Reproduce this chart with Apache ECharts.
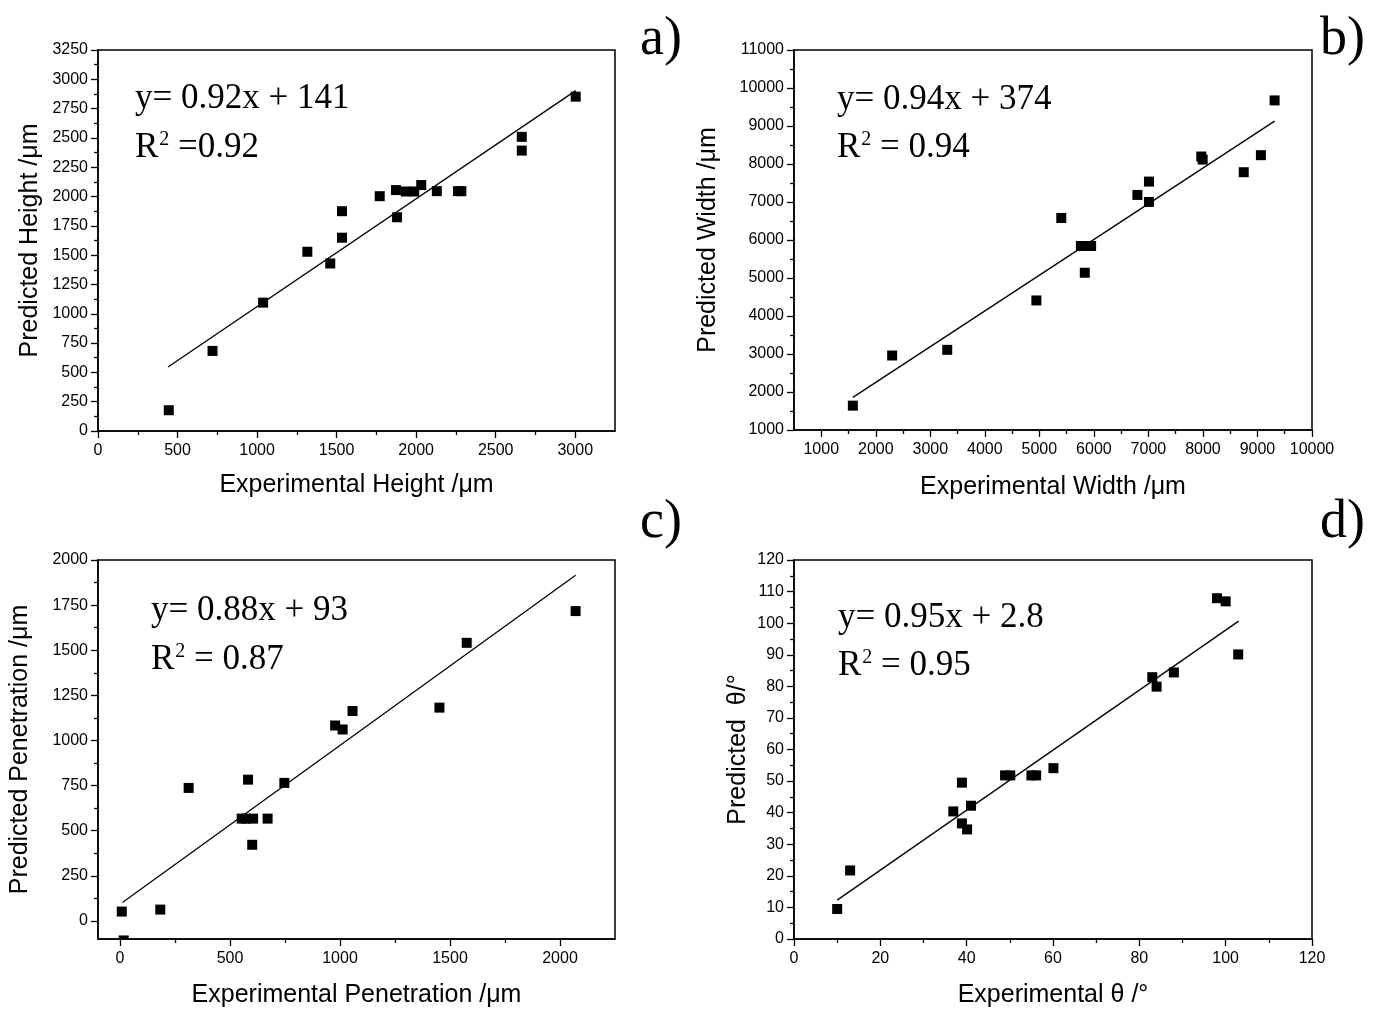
<!DOCTYPE html>
<html><head><meta charset="utf-8">
<script src="https://cdn.jsdelivr.net/npm/echarts@6/dist/echarts.min.js"></script>
<style>html,body{margin:0;padding:0;background:#fff}#c{width:1383px;height:1010px}</style>
</head><body><div id="c"></div>
<script>
// ---------- Panel a: height ----------
const heightExp  = [445,720,1038,1316,1460,1534,1534,1771,1873,1880,1935,1988,2032,2130,2263,2284,2664,2664,3003];
const heightPred = [177,683,1095,1529,1429,1875,1649,2003,2055,1823,2043,2043,2098,2046,2046,2046,2509,2392,2852];
const heightFit = [0.92, 141];
const heightFitRange = [440, 3003];
const heightXTicks = [0,500,1000,1500,2000,2500,3000];
const heightYTicks = [0,250,500,750,1000,1250,1500,1750,2000,2250,2500,2750,3000,3250];

// ---------- Panel b: width ----------
const widthExp  = [1579,2300,3310,4945,5402,5762,5839,5949,5833,6798,7010,7010,7969,7995,8748,9063,9314];
const widthPred = [1641,2960,3109,4409,6580,5842,5842,5842,5139,7186,7537,7001,8197,8117,7784,8232,9673];
const widthFit = [0.94, 374];
const widthFitRange = [1580, 9314];
const widthXTicks = [1000,2000,3000,4000,5000,6000,7000,8000,9000,10000];
const widthYTicks = [1000,2000,3000,4000,5000,6000,7000,8000,9000,10000,11000];

// ---------- Panel c: penetration ----------
const penExp  = [8,17,183,312,582,553,573,605,601,671,747,978,1012,1057,1452,1576,2071];
const penPred = [52,-108,63,737,783,567,567,567,422,567,765,1083,1061,1163,1182,1541,1717];
const penFit = [0.88, 93];
const penFitRange = [11, 2071];
const penXTicks = [0,500,1000,1500,2000];
const penYTicks = [0,250,500,750,1000,1250,1500,1750,2000];

// ---------- Panel d: angle ----------
const thetaExp  = [10.0,13.0,36.9,38.9,38.9,40.1,41.0,48.9,50.1,55.0,56.1,60.1,83.0,84.0,88.0,98.0,100.0,102.9];
const thetaPred = [9.5,21.7,40.4,49.5,36.6,34.7,42.2,51.8,51.8,51.8,51.8,54.1,82.9,79.9,84.4,107.9,106.9,90.1];
const thetaFit = [0.95, 2.8];
const thetaFitRange = [10, 103];
const thetaXTicks = [0,20,40,60,80,100,120];
const thetaYTicks = [0,10,20,30,40,50,60,70,80,90,100,110,120];

const SANS = 'Liberation Sans';
const SERIF = 'Liberation Serif';
const SYM = 10;
const EQ_FS = 35, SUP_FS = 20;

const panels = [
  {grid:{left:98,top:50,width:517,height:381}, xs:heightExp, ys:heightPred, fit:heightFit, range:heightFitRange,
   x:{min:0,max:3250,ticks:heightXTicks,name:'Experimental Height /μm',gap:42},
   y:{min:0,max:3250,ticks:heightYTicks,name:'Predicted Height /μm',gap:55.5}},
  {grid:{left:794,top:50,width:518,height:380}, xs:widthExp, ys:widthPred, fit:widthFit, range:widthFitRange,
   x:{min:500,max:10000,ticks:widthXTicks,name:'Experimental Width /μm',gap:45},
   y:{min:1000,max:11000,ticks:widthYTicks,name:'Predicted Width /μm',gap:73.5}},
  {grid:{left:98,top:560,width:517,height:379}, xs:penExp, ys:penPred, fit:penFit, range:penFitRange,
   x:{min:-100,max:2250,ticks:penXTicks,name:'Experimental Penetration /μm',gap:44},
   y:{min:-100,max:2000,ticks:penYTicks,name:'Predicted Penetration /μm',gap:65.5}},
  {grid:{left:794,top:560,width:518,height:379}, xs:thetaExp, ys:thetaPred, fit:thetaFit, range:thetaFitRange,
   x:{min:0,max:120,ticks:thetaXTicks,name:'Experimental θ /°',gap:44},
   y:{min:0,max:120,ticks:thetaYTicks,name:'Predicted  θ/°',gap:43.5}}
];

function minorsOf(t, min, max){
  const step = t[1]-t[0]; const out=[];
  for(let v=t[0]-step/2; v<max; v+=step){ if(v>min) out.push(v); }
  return out;
}
const labelStyle = {color:'#000', fontFamily:SANS, fontSize:16, formatter:(v)=>String(v)};
const nameStyle = {color:'#000', fontFamily:SANS, fontSize:25};

const grid=[], xAxis=[], yAxis=[], series=[];
panels.forEach((p,k)=>{
  grid.push(Object.assign({show:true, borderColor:'#000', borderWidth:1.5, backgroundColor:'transparent'}, p.grid));
  const mk = (a, pos, isY)=>[
    {type:'value', gridIndex:k, position:pos, min:a.min, max:a.max,
     name:a.name, nameLocation:'middle', nameGap:a.gap, nameTextStyle:nameStyle,
     axisLine:{show:true, onZero:false, lineStyle:{color:'#000', width:1.5}},
     axisTick:{show:true, length:7, customValues:a.ticks, lineStyle:{color:'#000', width:1.3}},
     axisLabel:{show:true, customValues:a.ticks, margin:isY?10:12, ...labelStyle},
     splitLine:{show:false}},
    {type:'value', gridIndex:k, position:pos, min:a.min, max:a.max,
     axisLine:{show:false, onZero:false},
     axisTick:{show:true, length:4, customValues:minorsOf(a.ticks,a.min,a.max), lineStyle:{color:'#000', width:1.3}},
     axisLabel:{show:false}, splitLine:{show:false}}
  ];
  xAxis.push(...mk(p.x,'bottom',false));
  yAxis.push(...mk(p.y,'left',true));
  const pxPerUnit = p.grid.height/(p.y.max-p.y.min);
  const pts = p.xs.map((x,i)=>{
    const y = p.ys[i];
    if (y < p.y.min) {
      const vis = SYM/2 - (p.y.min - y)*pxPerUnit;
      return {value:[x,p.y.min], symbolSize:[SYM, vis], symbolOffset:[0,-vis/2]};
    }
    return [x,y];
  });
  series.push({type:'scatter', xAxisIndex:2*k, yAxisIndex:2*k, symbol:'rect', symbolSize:SYM,
    itemStyle:{color:'#000', opacity:1}, data:pts, silent:true, z:3});
  series.push({type:'line', xAxisIndex:2*k, yAxisIndex:2*k, symbol:'none', silent:true,
    lineStyle:{color:'#000', width:1.3},
    data:p.range.map(x=>[x, p.fit[0]*x+p.fit[1]])});
});

const eqTexts = [
  {x:135, y:99,  eq:'y= 0.92x + 141', r2:' =0.92', y2:148},
  {x:837, y:100, eq:'y= 0.94x + 374', r2:' = 0.94', y2:148},
  {x:151, y:611, eq:'y= 0.88x + 93',  r2:' = 0.87', y2:660},
  {x:838, y:618, eq:'y= 0.95x + 2.8', r2:' = 0.95', y2:666}
];
const letters = [{t:'a)',x:640,y:40},{t:'b)',x:1320,y:40},{t:'c)',x:640,y:523},{t:'d)',x:1320,y:523}];
const mctx = document.createElement('canvas').getContext('2d');
function tw(txt, fs){ mctx.font = fs+'px "'+SERIF+'"'; return mctx.measureText(txt).width; }
const graphic = [];
eqTexts.forEach(e=>{
  const mainFont = EQ_FS+'px "'+SERIF+'"';
  graphic.push({type:'text', x:e.x, y:e.y, silent:true, style:{text:e.eq, fill:'#000',
    font:mainFont, verticalAlign:'middle', align:'left'}});
  const wR = tw('R', EQ_FS);
  graphic.push({type:'text', x:e.x, y:e.y2, silent:true, style:{text:'R', fill:'#000',
    font:mainFont, verticalAlign:'middle', align:'left'}});
  const supX = e.x + wR + 1;
  graphic.push({type:'text', x:supX, y:e.y2-8, silent:true, style:{text:'2', fill:'#000',
    font:SUP_FS+'px "'+SERIF+'"', verticalAlign:'middle', align:'left'}});
  graphic.push({type:'text', x:supX + tw('2', SUP_FS), y:e.y2, silent:true, style:{text:e.r2, fill:'#000',
    font:mainFont, verticalAlign:'middle', align:'left'}});
});
letters.forEach(l=>{
  graphic.push({type:'text', x:l.x, y:l.y, silent:true, style:{text:l.t, fill:'#000',
    font:'54px "'+SERIF+'"', verticalAlign:'middle', align:'left'}});
});

const chart = echarts.init(document.getElementById('c'), null, {renderer:'canvas'});
chart.setOption({backgroundColor:'#fff', animation:false, grid, xAxis, yAxis, series, graphic});
</script></body></html>
